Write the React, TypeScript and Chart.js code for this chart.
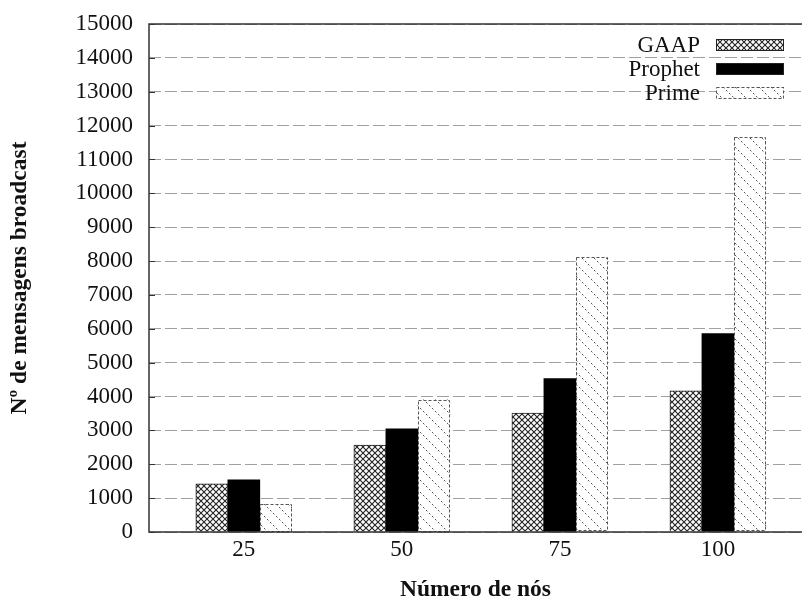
import React, { useEffect, useRef } from 'react';
import { Chart, registerables } from 'chart.js';
Chart.register(...registerables);

const nodes = [25, 50, 75, 100];
const gaap = [1420, 2570, 3510, 4170];
const prophet = [1540, 3050, 4530, 5860];
const prime = [840, 3900, 8110, 11650];
const seriesLabels = ['GAAP', 'Prophet', 'Prime'];
const yTickValues = [0, 1000, 2000, 3000, 4000, 5000, 6000, 7000, 8000, 9000, 10000, 11000, 12000, 13000, 14000, 15000];
const xTickValues = [25, 50, 75, 100];
const xTitle = 'Número de nós';
const yTitle = 'Nº de mensagens broadcast';

const FONT = '"Liberation Serif", "Times New Roman", serif';

function makeCross(): CanvasPattern | string {
  const c = document.createElement('canvas');
  c.width = 6; c.height = 6;
  const g = c.getContext('2d');
  if (!g) return '#999';
  g.fillStyle = '#fff';
  g.fillRect(0, 0, 6, 6);
  g.strokeStyle = '#222';
  g.lineWidth = 1.1;
  g.beginPath();
  g.moveTo(-1, -1); g.lineTo(7, 7);
  g.moveTo(-1, 7); g.lineTo(7, -1);
  g.stroke();
  return g.createPattern(c, 'repeat') || '#999';
}

function makeDiag(): CanvasPattern | string {
  const s = 12;
  const c = document.createElement('canvas');
  c.width = s; c.height = s;
  const g = c.getContext('2d');
  if (!g) return '#fff';
  g.fillStyle = '#fff';
  g.fillRect(0, 0, s, s);
  g.strokeStyle = '#555';
  g.lineWidth = 1;
  g.setLineDash([2, 2.24]);
  g.beginPath();
  g.moveTo(0, 0); g.lineTo(s, s);
  g.stroke();
  return g.createPattern(c, 'repeat') || '#fff';
}

export default function App() {
  const ref = useRef<HTMLCanvasElement>(null);
  useEffect(() => {
    const canvas = ref.current;
    if (!canvas) return;
    const cross = makeCross();
    const diag = makeDiag();

    const framePlugin = {
      id: 'frame',
      afterDatasetsDraw(chart: any) {
        const ctx = chart.ctx;
        const a = chart.chartArea;
        const meta = chart.getDatasetMeta(2);
        ctx.save();
        ctx.strokeStyle = '#555';
        ctx.lineWidth = 1;
        ctx.setLineDash([3, 2]);
        meta.data.forEach((el: any) => {
          const p = el.getProps(['x', 'y', 'base', 'width'], true);
          ctx.strokeRect(Math.round(p.x - p.width / 2) + 0.5, Math.round(p.y) + 0.5, Math.round(p.width) - 1, Math.round(p.base - p.y) - 1);
        });
        ctx.restore();
        ctx.save();
        ctx.strokeStyle = '#333';
        ctx.lineWidth = 1.5;
        ctx.beginPath();
        ctx.moveTo(a.right + 2, a.top);
        ctx.lineTo(a.left, a.top);
        ctx.lineTo(a.left, a.bottom);
        ctx.lineTo(a.right + 2, a.bottom);
        ctx.stroke();
        const ys = chart.scales.y;
        ctx.lineWidth = 1;
        ctx.beginPath();
        ys.ticks.forEach((t: any) => {
          const y = Math.round(ys.getPixelForValue(t.value)) + 0.5;
          ctx.moveTo(a.left, y);
          ctx.lineTo(a.left + 6, y);
        });
        ctx.stroke();
        ctx.restore();
        ctx.save();
        ctx.font = '23px ' + FONT;
        ctx.textAlign = 'right';
        ctx.textBaseline = 'middle';
        chart.data.datasets.forEach((ds: any, i: number) => {
          const cy = a.top + 21 + i * 24;
          const bx = a.right - 86;
          const bw = 68;
          const bh = 12;
          ctx.fillStyle = '#111';
          ctx.fillText(ds.label, bx - 16, cy + 1);
          ctx.fillStyle = ds.backgroundColor;
          ctx.fillRect(bx, cy - bh / 2, bw, bh);
          if (i === 2) {
            ctx.save();
            ctx.setLineDash([3, 2]);
            ctx.strokeStyle = '#555';
            ctx.lineWidth = 1;
            ctx.strokeRect(bx + 0.5, cy - bh / 2 + 0.5, bw - 1, bh - 1);
            ctx.restore();
          } else {
            ctx.strokeStyle = '#222';
            ctx.lineWidth = 1;
            ctx.strokeRect(bx + 0.5, cy - bh / 2 + 0.5, bw - 1, bh - 1);
          }
        });
        ctx.restore();
      },
    };

    const mk = (vals: number[]) => vals.map((v, i) => ({ x: nodes[i], y: v }));

    const chart = new Chart(canvas, {
      type: 'bar',
      data: {
        datasets: [
          { label: seriesLabels[0], data: mk(gaap), backgroundColor: cross as any, borderColor: '#222', borderWidth: 1, barThickness: 32 },
          { label: seriesLabels[1], data: mk(prophet), backgroundColor: '#000', borderColor: '#000', borderWidth: 0, barThickness: 32 },
          { label: seriesLabels[2], data: mk(prime), backgroundColor: diag as any, borderWidth: 0, barThickness: 32 },
        ],
      },
      options: {
        responsive: false,
        animation: false,
        layout: { padding: { top: 24, right: 0, left: 0, bottom: 0 } },
        plugins: { legend: { display: false }, tooltip: { enabled: false } },
        scales: {
          x: {
            type: 'linear',
            offset: false,
            min: 10,
            max: 113.3,
            afterBuildTicks: (s: any) => { s.ticks = xTickValues.map((v) => ({ value: v })); },
            afterFit: (s: any) => { s.height = 72; s.paddingLeft = 0; s.paddingRight = 0; },
            grid: { display: false, drawTicks: false, offset: false },
            border: { display: false },
            ticks: { padding: 4, color: '#111', font: { family: FONT, size: 23 }, callback: (v: any) => String(v) },
            title: { display: true, text: xTitle, color: '#111', padding: { top: 0, bottom: 0 }, font: { family: FONT, size: 23.5, weight: 'bold' } },
          },
          y: {
            min: 0,
            max: 15000,
            afterBuildTicks: (s: any) => { s.ticks = yTickValues.map((v) => ({ value: v })); },
            afterFit: (s: any) => { s.width = 149; s.paddingTop = 0; s.paddingBottom = 0; },
            grid: { color: '#a0a0a0', lineWidth: 1, drawTicks: false },
            border: { display: false, dash: [12, 4] },
            ticks: { padding: 16, color: '#111', font: { family: FONT, size: 23, lineHeight: 1 }, callback: (v: any) => String(v) },
            title: { display: true, text: yTitle, color: '#111', padding: { top: 6, bottom: 0 }, font: { family: FONT, size: 23.5, weight: 'bold' } },
          },
        },
      },
      plugins: [framePlugin],
    } as any);
    return () => chart.destroy();
  }, []);
  return (
    <div style={{ position: 'fixed', left: 0, top: 0, width: 802, height: 604, background: '#fff' }}>
      <canvas ref={ref} width={802} height={604} style={{ width: 802, height: 604, display: 'block' }} />
    </div>
  );
}
